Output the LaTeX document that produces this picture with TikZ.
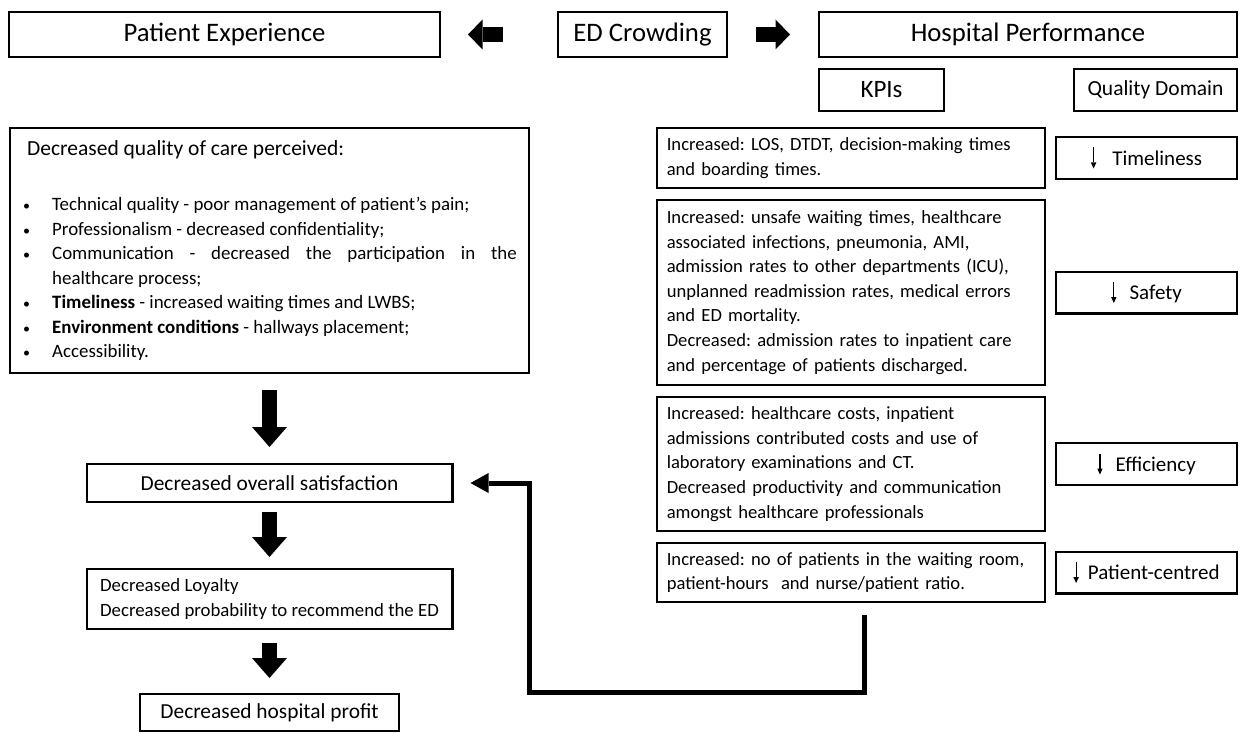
\documentclass[tikz,border=0pt]{standalone}
\usepackage{fontspec}
\setmainfont{Carlito}
\usetikzlibrary{positioning, arrows.meta, calc}
\tikzset{base box/.style={draw, line width=2.4pt, inner sep=0pt},
	title node/.style={base box, minimum height=44.6pt, font=\fontsize{26.7}{32}\selectfont},
	kpi node/.style={base box, text width=368.4pt, inner xsep=9.6pt, align=left, font=\fontsize{18.6}{24.6}\selectfont},
	domain node/.style={base box, minimum width=180.6pt, minimum height=41.6pt, font=\fontsize{21}{25}\selectfont},
	effect node/.style={base box, minimum height=37.6pt, font=\fontsize{21.4}{26}\selectfont},
	fat arrow/.style={line width=15pt, -{Triangle[length=20pt, width=35pt, line width=0pt]}},
	side arrow/.style={line width=15pt, -{Triangle[length=14.5pt, width=30pt, line width=0pt]}},
	back arrow/.style={line width=5pt, -{Triangle[length=18pt, width=20pt, line width=0pt]}},}
\newcommand{\dnarrow}{\tikz[baseline={(0pt,-17.5pt)}]\draw[line width=1.1pt, -{Triangle[length=6pt, width=5.5pt, line width=0pt]}] (0pt,0pt) -- (0pt,-21pt);}
\newcommand{\bitem}{\noindent\hangindent=30pt\hangafter=1\makebox[30pt][l]{\hspace{1pt}{\fontsize{14}{14}\selectfont\textbullet}}}
\hyphenpenalty=10000
\frenchspacing

\begin{document}
\begin{tikzpicture}[x=1pt, y=-1pt]
				\useasboundingbox (0,0) rectangle (1240,733);
				% Header row
				\node[title node, minimum width=430.6pt] (pe) at (224.5,34.5) {Patient Experience};
				\node[title node, minimum width=168.6pt] [right = 116pt of pe] (ed) {ED Crowding};
				\node[title node, minimum width=417.6pt] [right = 90pt of ed] (hp) {Hospital Performance};
				\node[base box, minimum width=124.6pt, minimum height=41.6pt, font=\fontsize{25}{30}\selectfont] [below right = 10pt and 0pt of hp.south west] (kpis) {KPIs};
				\node[base box, minimum width=162.6pt, minimum height=41.6pt, font=\fontsize{21.5}{25}\selectfont] [below left = 10pt and 0pt of hp.south east] (domain) {Quality Domain};
				% Patient experience
				\node[base box, text width=494.6pt, inner xsep=12pt, minimum height=244.6pt, align=justify, anchor=north west, font=\fontsize{18.9}{24.5}\selectfont] (care) at (9,127) {%
					{\fontsize{21.5}{24.5}\selectfont\noindent\hspace*{5pt}Decreased quality of care perceived:\par}\vspace{31pt}
					\bitem Technical quality - poor management of patient’s pain;\par
					\bitem Professionalism - decreased confidentiality;\par
					\bitem Communication - decreased the participation in the\linebreak healthcare process;\par
					\bitem \textbf{Timeliness} - increased waiting times and LWBS;\par
					\bitem \textbf{Environment conditions} - hallways placement;\par
					\bitem Accessibility.\par};
				\node[effect node, minimum width=365.6pt] [below = 89pt of care] (satisfaction) {Decreased overall satisfaction};
				\node[base box, minimum width=365.6pt, minimum height=59.6pt, align=left, font=\fontsize{18.8}{25}\selectfont] [below = 65pt of satisfaction] (loyalty) {Decreased Loyalty\\Decreased probability to recommend the ED};
				\node[effect node, minimum width=258.6pt, minimum height=36.6pt] [below = 63pt of loyalty] (profit) {Decreased hospital profit};
				% KPIs
				\node[kpi node, minimum height=59.6pt, anchor=north west] (kpiA) at (656,127) {Increased: LOS, DTDT, decision-making times\\and boarding times.};
				\node[kpi node, minimum height=184.6pt] [below = 10pt of kpiA] (kpiB) {Increased: unsafe waiting times, healthcare\\associated infections, pneumonia, AMI,\\admission rates to other departments (ICU),\\unplanned readmission rates, medical errors\\and ED mortality.\\Decreased: admission rates to inpatient care\\and percentage of patients discharged.};
				\node[kpi node, minimum height=133.6pt] [below = 10pt of kpiB] (kpiC) {Increased: healthcare costs, inpatient\\admissions contributed costs and use of\\laboratory examinations and CT.\\Decreased productivity and communication\\amongst healthcare professionals};
				\node[kpi node, minimum height=58.6pt] [below = 10pt of kpiC] (kpiD) {Increased: no of patients in the waiting room,\\patient-hours\ \ and nurse/patient ratio.};
				% Quality domains
				\node[domain node] [right = 9pt of kpiA] (timely) {\dnarrow\hspace{16pt}Timeliness\hspace{16pt}};
				\node[domain node] [right = 9pt of kpiB] (safety) {\dnarrow\hspace{13pt}Safety\hspace{13pt}};
				\node[domain node] [right = 9pt of kpiC] (efficiency) {\dnarrow\hspace{13pt}Efficiency\hspace{12pt}};
				\node[domain node] [right = 9pt of kpiD] (centred) {\dnarrow\hspace{9pt}Patient-centred\hspace{8pt}};
				% Arrows
				\draw[side arrow, shorten <=54pt, shorten >=27pt] (ed.west) -- (pe.east);
				\draw[side arrow, shorten <=28pt, shorten >=28pt] (ed.east) -- (hp.west);
				\draw[fat arrow, shorten <=16pt, shorten >=16pt] (care.south) -- (satisfaction.north);
				\draw[fat arrow, shorten <=9pt, shorten >=11pt] (satisfaction.south) -- (loyalty.north);
				\draw[fat arrow, shorten <=13pt, shorten >=15pt] (loyalty.south) -- (profit.north);
				\draw[back arrow, shorten >=17pt] ($(kpiD.south)+(13,12)$) -- ++(0,77) -| ($(satisfaction.east)+(76,0)$) -- (satisfaction.east);
			\end{tikzpicture}
\end{document}
